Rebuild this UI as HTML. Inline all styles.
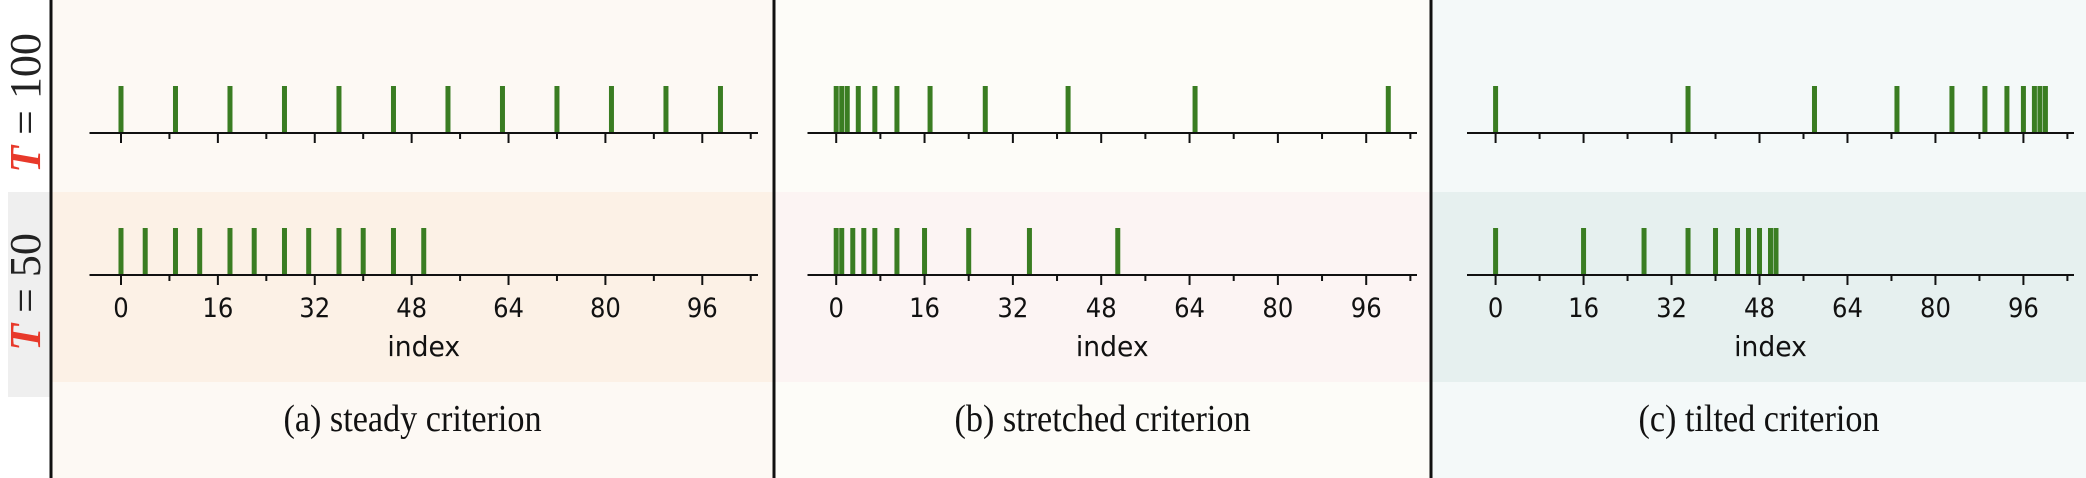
<!DOCTYPE html>
<html><head><meta charset="utf-8"><style>
html,body{margin:0;padding:0;background:#fff}
svg{display:block}
</style></head><body>
<svg id="fig" width="2086" height="478" xmlns="http://www.w3.org/2000/svg">
  <rect x="0" y="0" width="51" height="478" fill="#ffffff"/>
  <rect x="8" y="192" width="43" height="205" fill="#efefef"/>
  <g transform="translate(40,103) rotate(-90)">
    <text text-anchor="middle" font-family="Liberation Serif, serif" font-size="44" fill="#222"><tspan fill="#e8392a" font-style="italic" font-weight="bold">T</tspan> = 100</text>
  </g>
  <g transform="translate(40,292) rotate(-90)">
    <text text-anchor="middle" font-family="Liberation Serif, serif" font-size="44" fill="#222"><tspan fill="#e8392a" font-style="italic" font-weight="bold">T</tspan> = 50</text>
  </g>
  <g id="panels"></g>
  <line x1="51" y1="0" x2="51" y2="478" stroke="#111" stroke-width="3"/>
  <line x1="774" y1="0" x2="774" y2="478" stroke="#111" stroke-width="3"/>
  <line x1="1431" y1="0" x2="1431" y2="478" stroke="#111" stroke-width="3"/>
</svg>
<script>
// Data
const panelNames = ['steady', 'stretched', 'tilted'];
const captions = ['(a) steady criterion', '(b) stretched criterion', '(c) tilted criterion'];
const tickLabels = [0, 16, 32, 48, 64, 80, 96];
const minorTicks = [0, 8, 16, 24, 32, 40, 48, 56, 64, 72, 80, 88, 96, 104];
const steadyT100 = [0, 9, 18, 27, 36, 45, 54, 63, 72, 81, 90, 99];
const steadyT50 = [0, 4, 9, 13, 18, 22, 27, 31, 36, 40, 45, 50];
const stretchedT100 = [0, 1, 2, 4, 7, 11, 17, 27, 42, 65, 100];
const stretchedT50 = [0, 1, 3, 5, 7, 11, 16, 24, 35, 51];
const tiltedT100 = [0, 35, 58, 73, 83, 89, 93, 96, 98, 99, 100];
const tiltedT50 = [0, 16, 27, 35, 40, 44, 46, 48, 50, 51];
const xDomain = [-5.2, 105.2];

const NS = 'http://www.w3.org/2000/svg';
const panelsG = document.getElementById('panels');
function mk(tag, attrs, parent) {
  const e = document.createElementNS(NS, tag);
  for (const k in attrs) e.setAttribute(k, attrs[k]);
  parent.appendChild(e);
  return e;
}
const layout = [
  {x0: 52, x1: 773, ax0: 89.5, ax1: 758, bgTop: '#fdf9f4', bgBot: '#fcf1e6'},
  {x0: 775, x1: 1430, ax0: 807.5, ax1: 1417, bgTop: '#fdfcf8', bgBot: '#fcf4f3'},
  {x0: 1432, x1: 2086, ax0: 1467, ax1: 2074, bgTop: '#f4f9f9', bgBot: '#e6f0ef'}
];
const series = [[steadyT100, steadyT50], [stretchedT100, stretchedT50], [tiltedT100, tiltedT50]];
const axisY = [133, 275];
const barH = 47;

layout.forEach((L, p) => {
  const g = mk('g', {}, panelsG);
  
  
  const xs = v => L.ax0 + (v - xDomain[0]) / (xDomain[1] - xDomain[0]) * (L.ax1 - L.ax0);
  const bg1 = mk('rect', {x: L.x0, y: 0, width: L.x1 - L.x0, height: 478, fill: L.bgTop}, g);
  
  
  const bg2 = mk('rect', {x: L.x0, y: 192, width: L.x1 - L.x0, height: 190, fill: L.bgBot}, g);
  
  
  [0, 1].forEach(r => {
    const ay = axisY[r];
    const ag = mk('g', {}, g);
    
    
    series[p][r].forEach(v => {
      const b = mk('rect', {x: xs(v) - 2.5, y: ay - barH, width: 5, height: barH, fill: '#3a7d22'}, ag);
      
      
    });
    const ln = mk('line', {x1: L.ax0, x2: L.ax1, y1: ay, y2: ay, stroke: '#111', 'stroke-width': 2}, ag);
    
    
    minorTicks.forEach(t => {
      const major = t % 16 === 0;
      const tk = mk('line', {x1: xs(t), x2: xs(t), y1: ay, y2: ay + (major ? 10 : 6), stroke: '#111', 'stroke-width': 2}, ag);
      
      
    });
    if (r === 1) {
      tickLabels.forEach(t => {
        const tx = mk('text', {x: 0, y: 0, 'text-anchor': 'middle', 'font-family': 'DejaVu Sans, sans-serif', 'font-size': 27, fill: '#111', transform: 'translate(' + xs(t) + ',317) scale(0.9,1)'}, ag);
        tx.textContent = t;
        
        
      });
      const xl = mk('text', {x: 0, y: 0, 'text-anchor': 'middle', 'font-family': 'DejaVu Sans, sans-serif', 'font-size': 28, fill: '#111', transform: 'translate(' + ((L.ax0 + L.ax1) / 2) + ',356) scale(0.95,1)'}, ag);
      xl.textContent = 'index';
      
      
    }
  });
  const cap = mk('text', {x: 0, y: 0, 'text-anchor': 'middle', 'font-family': 'Liberation Serif, serif', 'font-size': 38, fill: '#111', transform: 'translate(' + ((L.x0 + L.x1) / 2) + ',431) scale(0.9,1)'}, g);
  cap.textContent = captions[p];
  
  
});
</script>
</body></html>
